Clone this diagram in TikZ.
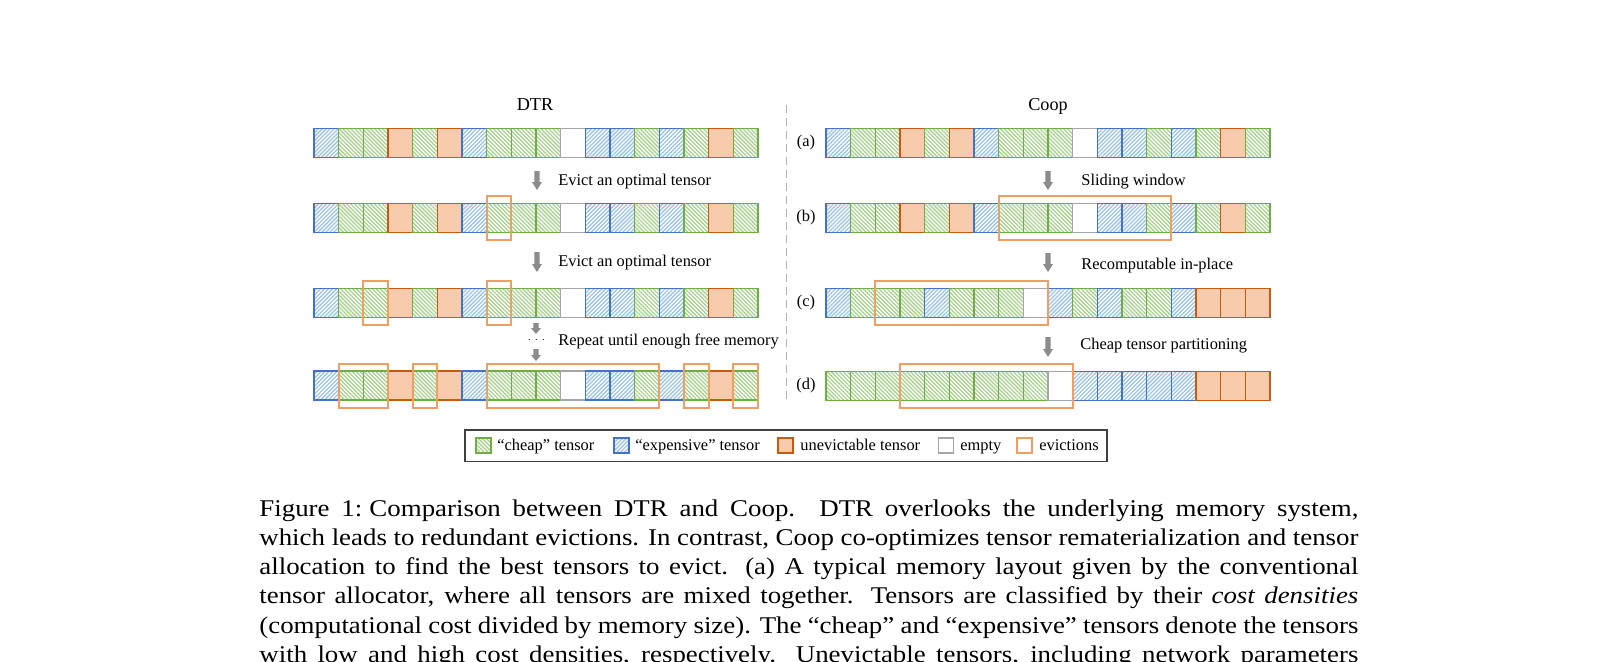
\documentclass[tikz,border=0pt]{standalone}
\usepackage{fontspec}
\setmainfont{Liberation Serif}
\newfontfamily\capfont[FakeStretch=1.12]{Liberation Serif}
\usetikzlibrary{patterns.meta,fit,calc}
\definecolor{gbd}{RGB}{112,173,71}
\definecolor{ghat}{RGB}{169,209,142}
\definecolor{bbd}{RGB}{68,114,196}
\definecolor{bhat}{RGB}{157,195,230}
\definecolor{obd}{RGB}{197,90,17}
\definecolor{ofill}{RGB}{248,203,173}
\definecolor{ebd}{RGB}{166,166,166}
\definecolor{evc}{RGB}{241,158,98}
\definecolor{arrgray}{RGB}{140,140,140}
\tikzset{
  cellbase/.style={rectangle, minimum width=12.333pt, minimum height=14.5pt, inner sep=0pt, outer sep=0pt, anchor=north west, line width=0.75pt},
  cellg/.style={cellbase, draw=gbd, pattern={Lines[angle=-45,distance=1.4pt,line width=0.65pt]}, pattern color=ghat},
  cellb/.style={cellbase, draw=bbd, pattern={Lines[angle=45,distance=1.4pt,line width=0.65pt]}, pattern color=bhat},
  cello/.style={cellbase, draw=obd, fill=ofill},
  celle/.style={cellbase, draw=ebd, fill=white},
  evict/.style={rectangle, draw=evc, line width=1pt, inner xsep=0pt, inner ysep=3.75pt},
  lbl/.style={font=\fontsize{8.2}{9.8}\selectfont, inner sep=0pt},
  ttl/.style={font=\fontsize{9.1}{11}\selectfont, inner sep=0pt, anchor=base},
  capt/.style={font=\capfont\fontsize{12}{14.65}\selectfont, inner sep=0pt, anchor=base west},
  swatch/.style={rectangle, minimum size=7.5pt, inner sep=0pt, line width=0.75pt},
  pics/downarr/.style 2 args={code={
    \fill[arrgray] (-2.6,0) -- (2.6,0) -- (2.6,#1-#2) -- (5,#1-#2) -- (0,#1) -- (-5,#1-#2) -- (-2.6,#1-#2) -- cycle;
  }},
}
\newcommand\tensorrow[4]{%
  \foreach \t [count=\i from 0] in {#4} {\node[cell\t] (#1\i) at ({#2+24.667*\i},#3) {};}}
\newcommand\capline[3]{\node[capt] (#1) at (259,#2) {\hbox to 549.5pt{#3}};}
\begin{document}
\begin{tikzpicture}[x=0.5pt,y=-0.5pt]
\useasboundingbox (0,0) rectangle (1618,661);
\fill[white] (0,0) rectangle (1618,661);
\clip (0,0) rectangle (1618,661);

% titles
\node[ttl] (tdtr) at (535,110.5) {DTR};
\node[ttl] (tcoop) at (1048,110.5) {Coop};

% divider
\draw[gray!60, line width=0.5pt, dash pattern=on 4pt off 2.5pt] (786,105) -- (786,403);

% DTR rows
\tensorrow{dA}{314}{128.5}{b,g,g,o,g,o,b,g,g,g,e,b,b,g,b,g,o,g}
\tensorrow{dB}{314}{203.5}{b,g,g,o,g,o,b,g,g,g,e,b,b,g,b,g,o,g}
\tensorrow{dC}{314}{288.5}{b,g,g,o,g,o,b,g,g,g,e,b,b,g,b,g,o,g}
\tensorrow{dD}{314}{371}{b,g,g,o,g,o,b,g,g,g,e,b,b,g,b,g,o,g}

% Coop rows
\tensorrow{cA}{826}{128.5}{b,g,g,o,g,o,b,g,g,g,e,b,b,g,b,g,o,g}
\tensorrow{cB}{826}{203.5}{b,g,g,o,g,o,b,g,g,g,e,b,b,g,b,g,o,g}
\tensorrow{cC}{826}{288.5}{b,g,g,g,b,g,g,g,e,b,g,b,g,g,b,o,o,o}
\tensorrow{cD}{826}{371.5}{g,g,g,g,g,g,g,g,g,e,b,b,b,b,b,o,o,o}

% row labels
\node[lbl] (la) at (806,143) {(a)};
\node[lbl] (lb) at (806,218) {(b)};
\node[lbl] (lc) at (806,303) {(c)};
\node[lbl] (ld) at (806,386) {(d)};

% evictions DTR
\node[evict, fit=(dB7)] (e1) {};
\node[evict, fit=(dC2)] (e2) {};
\node[evict, fit=(dC7)] (e3) {};
\node[evict, fit=(dD1)(dD2)] (e4) {};
\node[evict, fit=(dD4)] (e5) {};
\node[evict, fit=(dD7)(dD13)] (e6) {};
\node[evict, fit=(dD15)] (e7) {};
\node[evict, fit=(dD17)] (e8) {};
% evictions Coop
\node[evict, fit=(cB7)(cB13)] (e9) {};
\node[evict, fit=(cC2)(cC8)] (e10) {};
\node[evict, fit=(cD3)(cD9)] (e11) {};

% arrows and labels
\pic at (537,171) {downarr={19}{8}};
\node[lbl, anchor=base west] (t1) at (558,185.7) {Evict an optimal tensor};
\pic at (537,252) {downarr={20}{8}};
\node[lbl, anchor=base west] (t2) at (558,266) {Evict an optimal tensor};
\pic at (536,323) {downarr={11}{6}};
\node[inner sep=0pt, font=\fontsize{5.5}{5.5}\selectfont] (dots) at (536.5,340) {$\cdots$};
\pic at (536,349) {downarr={12}{6}};
\node[lbl, anchor=base west] (t3) at (558,345) {Repeat until enough free memory};

\pic at (1048,171) {downarr={19}{8}};
\node[lbl, anchor=base west] (t4) at (1081,185.7) {Sliding window};
\pic at (1048,253) {downarr={19}{8}};
\node[lbl, anchor=base west] (t5) at (1081,269.3) {Recomputable in-place};
\pic at (1048,337) {downarr={20}{8}};
\node[lbl, anchor=base west] (t6) at (1080,349.3) {Cheap tensor partitioning};

% legend
\draw[black!75, line width=0.6pt] (465,430) rectangle (1107,461.5);
\node[swatch, draw=gbd, pattern={Lines[angle=-45,distance=1.4pt,line width=0.65pt]}, pattern color=ghat] (sg) at (483.5,445.5) {};
\node[lbl, anchor=base west] (lg) at (497,450) {“cheap” tensor};
\node[swatch, draw=bbd, pattern={Lines[angle=45,distance=1.4pt,line width=0.65pt]}, pattern color=bhat] (sb) at (621.5,445.5) {};
\node[lbl, anchor=base west] (lgb) at (635,450) {“expensive” tensor};
\node[swatch, draw=obd, fill=ofill] (so) at (785.5,445.5) {};
\node[lbl, anchor=base west] (lgo) at (800,450) {unevictable tensor};
\node[swatch, draw=ebd, fill=white] (se) at (946,445.5) {};
\node[lbl, anchor=base west] (lge) at (960,450) {empty};
\node[swatch, draw=evc, line width=1pt] (sv) at (1024.5,445.5) {};
\node[lbl, anchor=base west] (lgv) at (1039,450) {evictions};

% caption
\capline{c1}{516}{Figure 1:\hspace{0.3em}Comparison between DTR and Coop. DTR overlooks the underlying memory system,}
\capline{c2}{545.3}{which leads to redundant evictions. In contrast, Coop co-optimizes tensor rematerialization and tensor}
\capline{c3}{574.6}{allocation to find the best tensors to evict. (a) A typical memory layout given by the conventional}
\capline{c4}{603.9}{tensor allocator, where all tensors are mixed together. Tensors are classified by their \textit{cost densities}}
\capline{c5}{633.2}{(computational cost divided by memory size). The “cheap” and “expensive” tensors denote the tensors}
\capline{c6}{662.5}{with low and high cost densities, respectively. Unevictable tensors, including network parameters}
\end{tikzpicture}
\end{document}
